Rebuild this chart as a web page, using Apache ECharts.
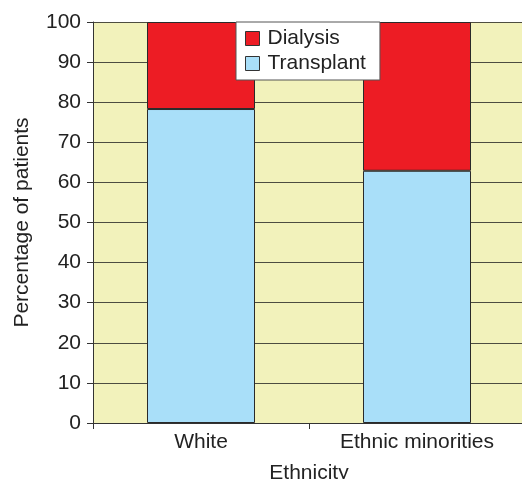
<!DOCTYPE html>
<html><head><meta charset="utf-8">
<script src="https://cdn.jsdelivr.net/npm/echarts@6/dist/echarts.min.js"></script>
<style>html,body{margin:0;padding:0;background:#fff}#c{width:522px;height:479px}</style>
</head><body><div id="c"></div>
<script>
const categories = ['White', 'Ethnic minorities'];
const transplant = [78.3, 62.9];
const dialysis = [21.7, 37.1];
const yTicks = [0, 10, 20, 30, 40, 50, 60, 70, 80, 90, 100];

const font = 'Liberation Sans, Arial, sans-serif';
const chart = echarts.init(document.getElementById('c'));
chart.setOption({
  animation: false,
  grid: { left: 93, right: -3, top: 22, bottom: 56, show: true, backgroundColor: '#F2F2BB', borderWidth: 0,
          outerBoundsMode: 'none', containLabel: false },
  legend: {
    orient: 'vertical', left: 236, top: 22,
    data: ['Dialysis', 'Transplant'],
    icon: 'rect',
    backgroundColor: '#fff', borderColor: '#555', borderWidth: 1,
    padding: [6, 14, 6, 9], itemGap: 4, itemWidth: 14, itemHeight: 14,
    itemStyle: { borderColor: '#333', borderWidth: 1 },
    textStyle: { fontFamily: font, fontSize: 21, color: '#222', padding: [0, 0, 0, 3] }
  },
  xAxis: {
    type: 'category', data: categories,
    name: 'Ethnicity', nameLocation: 'middle', nameGap: 40,
    nameTextStyle: { fontFamily: font, fontSize: 21, color: '#222' },
    axisLine: { lineStyle: { color: '#333', width: 1 } },
    axisTick: { show: true, length: 6, lineStyle: { color: '#333' } },
    axisLabel: { fontFamily: font, fontSize: 21, color: '#222', margin: 9 }
  },
  yAxis: {
    type: 'value', min: 0, max: 100, interval: 10,
    name: 'Percentage of patients', nameLocation: 'middle', nameGap: 60,
    nameTextStyle: { fontFamily: font, fontSize: 21, color: '#222' },
    axisLine: { show: true, lineStyle: { color: '#333', width: 1 } },
    axisTick: { show: true, length: 6, lineStyle: { color: '#333' } },
    axisLabel: { fontFamily: font, fontSize: 21, color: '#222', margin: 12,
      formatter: v => yTicks.includes(v) ? String(v) : '' },
    splitLine: { show: true, lineStyle: { color: '#4d4d40', width: 1 } }
  },
  series: [
    { name: 'Transplant', type: 'bar', stack: 's', data: transplant, barWidth: '50%',
      itemStyle: { color: '#A9DFF9', borderColor: '#2a2a2a', borderWidth: 1 } },
    { name: 'Dialysis', type: 'bar', stack: 's', data: dialysis, barWidth: '50%',
      itemStyle: { color: '#ED1C24', borderColor: '#2a2a2a', borderWidth: 1 } }
  ]
});
</script></body></html>
